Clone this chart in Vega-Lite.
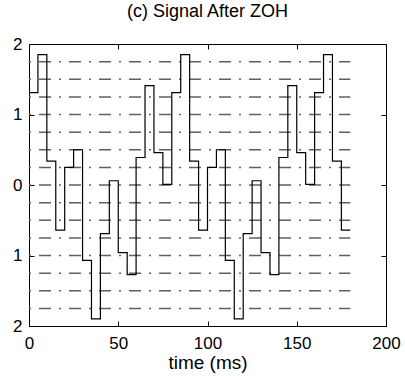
{
  "$schema": "https://vega.github.io/schema/vega-lite/v6.json",
  "width": 357,
  "height": 282,
  "autosize": "none",
  "padding": {"left": 29, "top": 44, "right": 19, "bottom": 50},
  "background": "white",
  "config": {
    "font": "Liberation Sans",
    "view": {"stroke": null},
    "axis": {
      "grid": false,
      "domainColor": "black",
      "tickColor": "black",
      "labelColor": "black",
      "titleColor": "black",
      "labelFont": "Liberation Sans",
      "titleFont": "Liberation Sans",
      "labelFontSize": 17,
      "titleFontSize": 19,
      "titleFontWeight": "normal",
      "tickSize": -5,
      "domainWidth": 1,
      "tickWidth": 1
    }
  },
  "title": {
    "text": "(c) Signal After ZOH",
    "fontSize": 18,
    "fontWeight": "normal",
    "font": "Liberation Sans",
    "color": "black",
    "offset": 14
  },
  "datasets": {
    "signal": [
      {"t": 0, "v": 1.31}, {"t": 5, "v": 1.85}, {"t": 10, "v": 0.34}, {"t": 15, "v": -0.64},
      {"t": 20, "v": 0.25}, {"t": 25, "v": 0.5}, {"t": 30, "v": -1.07}, {"t": 35, "v": -1.9},
      {"t": 40, "v": -0.69}, {"t": 45, "v": 0.06}, {"t": 50, "v": -0.96}, {"t": 55, "v": -1.27},
      {"t": 60, "v": 0.39}, {"t": 65, "v": 1.41}, {"t": 70, "v": 0.46}, {"t": 75, "v": 0.01},
      {"t": 80, "v": 1.31}, {"t": 85, "v": 1.85}, {"t": 90, "v": 0.34}, {"t": 95, "v": -0.64},
      {"t": 100, "v": 0.25}, {"t": 105, "v": 0.5}, {"t": 110, "v": -1.07}, {"t": 115, "v": -1.9},
      {"t": 120, "v": -0.69}, {"t": 125, "v": 0.06}, {"t": 130, "v": -0.96}, {"t": 135, "v": -1.27},
      {"t": 140, "v": 0.39}, {"t": 145, "v": 1.41}, {"t": 150, "v": 0.46}, {"t": 155, "v": 0.01},
      {"t": 160, "v": 1.31}, {"t": 165, "v": 1.85}, {"t": 170, "v": 0.34}, {"t": 175, "v": -0.64},
      {"t": 180, "v": -0.64}
    ],
    "levels": [
      {"level": -1.75, "start": 0, "end": 180}, {"level": -1.5, "start": 0, "end": 180},
      {"level": -1.25, "start": 0, "end": 180}, {"level": -1.0, "start": 0, "end": 180},
      {"level": -0.75, "start": 0, "end": 180}, {"level": -0.5, "start": 0, "end": 180},
      {"level": -0.25, "start": 0, "end": 180}, {"level": 0.0, "start": 0, "end": 180},
      {"level": 0.25, "start": 0, "end": 180}, {"level": 0.5, "start": 0, "end": 180},
      {"level": 0.75, "start": 0, "end": 180}, {"level": 1.0, "start": 0, "end": 180},
      {"level": 1.25, "start": 0, "end": 180}, {"level": 1.5, "start": 0, "end": 180},
      {"level": 1.75, "start": 0, "end": 180}
    ]
  },
  "layer": [
    {
      "data": {"name": "levels"},
      "mark": {"type": "rule", "color": "#606060", "strokeWidth": 1.5, "strokeDash": [12, 8, 2, 8], "strokeDashOffset": 20},
      "encoding": {
        "x": {
          "field": "start", "type": "quantitative",
          "scale": {"domain": [0, 200], "nice": false, "zero": false},
          "axis": {"orient": "bottom", "title": "time (ms)", "values": [0, 50, 100, 150, 200], "labelPadding": 14, "titlePadding": 2, "labelFlush": false}
        },
        "x2": {"field": "end"},
        "y": {
          "field": "level", "type": "quantitative",
          "scale": {"domain": [-2, 2], "nice": false, "zero": false},
          "axis": {"orient": "left", "title": null, "values": [-2, -1, 0, 1, 2], "labelExpr": "abs(datum.value)", "labelPadding": 12, "labelFlush": false}
        }
      }
    },
    {
      "data": {"name": "signal"},
      "mark": {"type": "line", "interpolate": "step-after", "color": "black", "strokeWidth": 1.2},
      "encoding": {
        "x": {
          "field": "t", "type": "quantitative",
          "axis": {"orient": "top", "title": null, "labels": false, "values": [0, 50, 100, 150, 200]}
        },
        "y": {
          "field": "v", "type": "quantitative",
          "axis": {"orient": "right", "title": null, "labels": false, "values": [-2, -1, 0, 1, 2]}
        }
      }
    }
  ],
  "resolve": {"axis": {"x": "independent", "y": "independent"}}
}
